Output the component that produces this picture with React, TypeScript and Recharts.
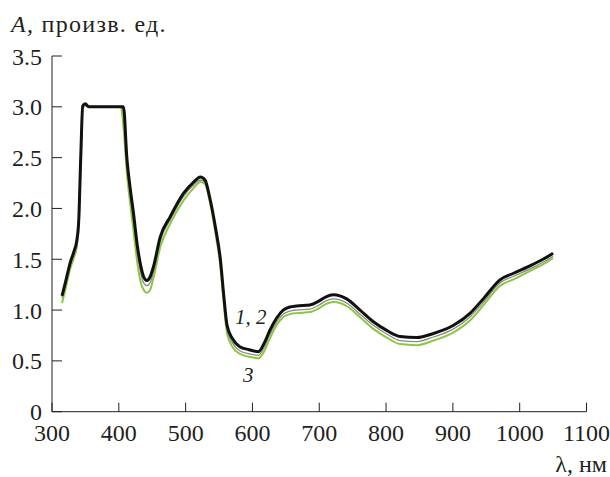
import React from "react";
import {
  LineChart,
  Line,
  XAxis,
  YAxis,
  ReferenceDot,
} from "recharts";

// wavelength, nm
const wavelengths = [
  315, 320, 327, 333, 337, 340, 343, 346, 350, 355, 380, 403, 407, 412, 417,
  422, 428, 433, 437, 442, 447, 452, 462, 477, 497, 512, 522, 529, 536, 545,
  552, 557, 562, 570, 581, 595, 609, 618, 626, 636, 646, 656, 666, 686, 700,
  710, 721, 731, 741, 761, 781, 801, 821, 846, 871, 901, 926, 946, 971, 990,
  1020, 1035, 1050,
];

// curve 1 (black)
const curve1 = [
  1.14, 1.27, 1.46, 1.58, 1.68, 1.88, 2.5, 3.01, 3.03, 3.0, 3.0, 3.0, 3.0,
  2.5, 2.2, 1.95, 1.62, 1.43, 1.33, 1.29, 1.33, 1.43, 1.72, 1.92, 2.15, 2.26,
  2.31, 2.28, 2.11, 1.8, 1.5, 1.15, 0.85, 0.72, 0.64, 0.61, 0.59, 0.68, 0.8,
  0.92, 1.0, 1.03, 1.04, 1.05, 1.09, 1.13, 1.15, 1.14, 1.11, 1.0, 0.885, 0.8,
  0.74, 0.73, 0.77, 0.85, 0.97, 1.115, 1.3, 1.36, 1.45, 1.5, 1.56,
];

// curve 2 (gray)
const curve2 = [
  1.12, 1.25, 1.44, 1.56, 1.66, 1.87, 2.48, 3.0, 3.02, 3.0, 3.0, 3.0, 2.95,
  2.45, 2.14, 1.88, 1.55, 1.36, 1.27, 1.24, 1.27, 1.38, 1.68, 1.89, 2.12, 2.23,
  2.28, 2.26, 2.09, 1.77, 1.47, 1.11, 0.81, 0.68, 0.6, 0.57, 0.555, 0.64, 0.76,
  0.88, 0.96, 0.99, 1.0, 1.01, 1.05, 1.09, 1.11, 1.1, 1.07, 0.96, 0.85, 0.765,
  0.7, 0.69, 0.735, 0.815, 0.935, 1.08, 1.27, 1.33, 1.42, 1.47, 1.53,
];

// curve 3 (green)
const curve3 = [
  1.07, 1.2, 1.4, 1.52, 1.62, 1.84, 2.45, 2.98, 3.01, 3.0, 3.0, 3.0, 2.8,
  2.35, 2.05, 1.78, 1.45, 1.27, 1.2, 1.17, 1.2, 1.32, 1.62, 1.85, 2.08, 2.2,
  2.26, 2.24, 2.07, 1.74, 1.43, 1.07, 0.77, 0.64, 0.57, 0.54, 0.525, 0.6, 0.72,
  0.85, 0.93, 0.96, 0.97, 0.98, 1.02, 1.06, 1.08, 1.07, 1.04, 0.93, 0.815,
  0.73, 0.665, 0.655, 0.7, 0.78, 0.9, 1.05, 1.24, 1.3, 1.4, 1.45, 1.51,
];

const xTicks = [300, 400, 500, 600, 700, 800, 900, 1000, 1100];
const yTicks = [0, 0.5, 1, 1.5, 2, 2.5, 3, 3.5];

const data = wavelengths.map((w, i) => ({
  w,
  c1: curve1[i],
  c2: curve2[i],
  c3: curve3[i],
}));

const ink = "#231f20";
const serif =
  '"Liberation Serif", Tinos, "Times New Roman", Times, "DejaVu Serif", serif';

const curveLabel = (text: string) => (props: any) => {
  const { x, y } = props.viewBox;
  return (
    <text
      x={x}
      y={y}
      style={{ fontFamily: serif, fontStyle: "italic", fontSize: 21 }}
      fill={ink}
    >
      {text}
    </text>
  );
};

const tickStyle = { fill: ink, fontSize: 24, style: { fontFamily: serif } };

export default function App() {
  return (
    <div
      style={{
        position: "absolute",
        left: 0,
        top: 0,
        width: 610,
        height: 477,
        background: "#fff",
        fontFamily: serif,
        color: ink,
      }}
    >
      <div
        style={{
          position: "absolute",
          left: 11,
          top: 12,
          fontSize: 24,
          lineHeight: "24px",
          letterSpacing: 1.3,
          whiteSpace: "nowrap",
        }}
      >
        <i>A</i>, произв. ед.
      </div>

      <LineChart
        width={610}
        height={477}
        data={data}
        margin={{ top: 56, right: 23.5, bottom: 35.3, left: 0 }}
        style={{ fontFamily: serif }}
      >
        <XAxis
          dataKey="w"
          type="number"
          domain={[300, 1100]}
          ticks={xTicks}
          interval={0}
          height={30}
          tickSize={-9}
          tickMargin={21}
          stroke={ink}
          tick={tickStyle}
        />
        <YAxis
          domain={[0, 3.5]}
          ticks={yTicks}
          interval={0}
          width={52}
          tickSize={-10}
          tickMargin={20}
          stroke={ink}
          tickFormatter={(v: number) => (v === 0 ? "0" : v.toFixed(1))}
          tick={tickStyle}
        />

        <Line
          dataKey="c3"
          type="monotone"
          stroke="#8dc73f"
          strokeWidth={2}
          dot={false}
          isAnimationActive={false}
        />
        <Line
          dataKey="c2"
          type="monotone"
          stroke="#8a8a8a"
          strokeWidth={1.3}
          dot={false}
          isAnimationActive={false}
        />
        <Line
          dataKey="c1"
          type="monotone"
          stroke="#111"
          strokeWidth={3}
          dot={false}
          isAnimationActive={false}
        />

        <ReferenceDot
          x={574}
          y={0.862}
          r={0}
          fill="none"
          stroke="none"
          label={curveLabel("1, 2")}
        />
        <ReferenceDot
          x={586}
          y={0.295}
          r={0}
          fill="none"
          stroke="none"
          label={curveLabel("3")}
        />
      </LineChart>

      <div
        style={{
          position: "absolute",
          right: 3,
          top: 452,
          fontSize: 24,
          lineHeight: "24px",
          whiteSpace: "nowrap",
        }}
      >
        λ, нм
      </div>
    </div>
  );
}
